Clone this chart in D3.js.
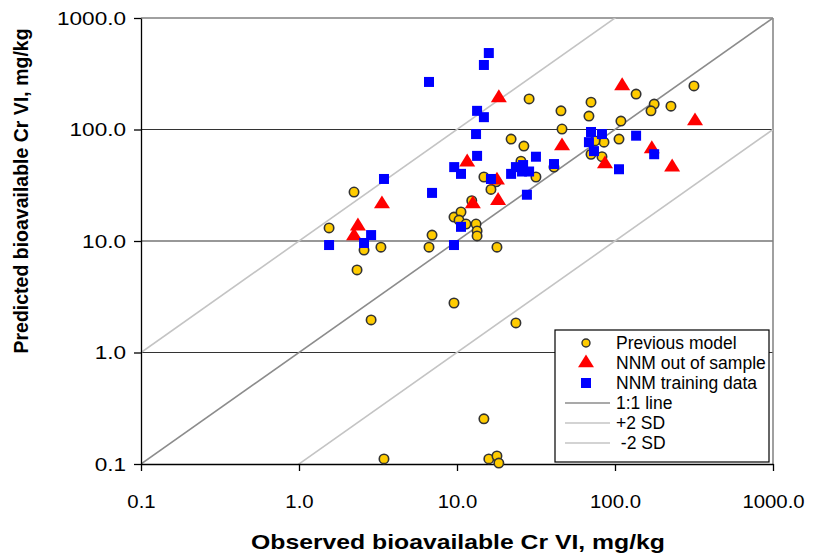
<!DOCTYPE html>
<html>
<head>
<meta charset="utf-8">
<script src="https://cdn.jsdelivr.net/npm/d3@7"></script>
<style>
  html, body { margin: 0; padding: 0; background: #fff; }
  svg { display: block; }
  text { font-family: "Liberation Sans", Arial, sans-serif; }
</style>
</head>
<body>
<svg id="chart" width="820" height="557"></svg>
<script>
// ---- data ----
const prevObs  = [28.6,45.5,70.5,68.4,46.2,109,136,177,169,226,316,22,26.5,106,85.2,74.7,70.5,82.7,25.4,41.1,14.8,17.7,31.6,16.4,12.4,2.23,1.55,6.95,2.58,3.30,6.65,17.9,2.33,9.57,2.86,23.6,9.57,10.6,10.3,11.4,13.2,13.4,13.4,14.8,3.45,15.9,17.9,18.4];
const prevPred = [188,147,176,132,101,119,208,169,147,162,246,82,71,82,77,79,60,57,52,46,37.5,34,37.5,29,23,27.5,13.1,11.3,8.3,8.8,8.8,8.8,5.5,2.78,1.96,1.84,16.4,18.2,15.4,14.2,14.2,12.3,11.1,0.254,0.111,0.111,0.118,0.102];
const oosObs   = [18.4,111,321,46.2,171,86.4,230,11.6,17.9,18.2,12.6,3.35,2.36,2.23];
const oosPred  = [192,246,119,71,67,49,46,51,35,23,21.5,21.5,13.6,11.1];
const trainObs = [15.9,14.8,6.65,13.4,14.8,13.2,13.4,9.6,10.6,6.95,16.4,22.0,23.6,26.2,25.8,28.6,31.6,41.1,27.7,70.5,82.7,68.4,73.6,136,177,106,3.45,2.86,2.58,1.55,9.57,10.6];
const trainPred= [485,379,267,147,129,91,58,46,40,27,36,40,46,48,42,42,57,49,26,95,91,77,64,88,60,44,36,11.3,9.6,9.2,9.2,13.4];
const tickValues = [0.1, 1, 10, 100, 1000];
const refLineFactors = [1, 10, 0.1];          // 1:1, +2 SD, -2 SD
const legendLabels = ["Previous model", "NNM out of sample", "NNM training data", "1:1 line", "+2 SD", " -2 SD"];
const xTitle = "Observed bioavailable Cr VI, mg/kg";
const yTitle = "Predicted bioavailable Cr VI, mg/kg";

// ---- layout ----
const svg = d3.select("#chart");
const L = 141, R = 773, T = 18, B = 464;
const x = d3.scaleLog().domain([0.1, 1000]).range([L, R]);
const y = d3.scaleLog().domain([0.1, 1000]).range([B, T]);
const fmt = d3.format(".1f");

// horizontal gridlines
svg.append("g").selectAll("line").data([1, 10, 100]).join("line")
  .attr("x1", L).attr("x2", R).attr("y1", d => y(d)).attr("y2", d => y(d))
  .attr("stroke", "#333").attr("stroke-width", 1.2);

// plot border top/right
svg.append("line").attr("x1", L).attr("x2", R).attr("y1", T).attr("y2", T).attr("stroke", "#808080").attr("stroke-width", 1.5);
svg.append("line").attr("x1", R).attr("x2", R).attr("y1", T).attr("y2", B).attr("stroke", "#808080").attr("stroke-width", 1.5);

// reference lines
svg.append("clipPath").attr("id", "pc").append("rect")
  .attr("x", L).attr("y", T).attr("width", R - L).attr("height", B - T);
const refColors = ["#8c8c8c", "#c4c4c4", "#c4c4c4"];
svg.append("g").attr("clip-path", "url(#pc)").selectAll("line").data(refLineFactors).join("line")
  .attr("x1", x(0.1)).attr("y1", (d) => y(0.1 * d))
  .attr("x2", x(1000)).attr("y2", (d) => y(1000 * d))
  .attr("stroke", (d, i) => refColors[i]).attr("stroke-width", 1.6);

// axes
const xAxis = d3.axisBottom(x).tickValues(tickValues).tickFormat(fmt).tickSize(7).tickSizeOuter(0);
const gx = svg.append("g").attr("transform", `translate(0,${B})`).call(xAxis);
gx.select(".domain").attr("stroke", "#000").attr("stroke-width", 1.3);
gx.selectAll(".tick line").attr("stroke", "#000").attr("stroke-width", 1.3);
gx.selectAll(".tick text").attr("font-size", 18.5).attr("fill", "#000").attr("y", 0).attr("dy", 0)
  .attr("transform", "translate(0,44) scale(1.1,1)")
  .attr("font-family", "Liberation Sans, Arial, sans-serif");

const yAxis = d3.axisLeft(y).tickValues(tickValues).tickFormat(fmt).tickSize(7).tickSizeOuter(0);
const gy = svg.append("g").attr("transform", `translate(${L},0)`).call(yAxis);
gy.select(".domain").attr("stroke", "#000").attr("stroke-width", 1.3);
gy.selectAll(".tick text").attr("font-size", 18.5).attr("fill", "#000").attr("x", 0).attr("dy", "0.35em")
  .attr("transform", "translate(-15,0) scale(1.22,1)")
  .attr("font-family", "Liberation Sans, Arial, sans-serif");
gy.selectAll(".tick line").attr("stroke", "#000").attr("stroke-width", 1.3);

// markers
svg.append("g").selectAll("circle").data(d3.zip(prevObs, prevPred)).join("circle")
  .attr("cx", d => x(d[0])).attr("cy", d => y(d[1])).attr("r", 4.7)
  .attr("fill", "#FFCC00").attr("stroke", "#333").attr("stroke-width", 1.6);

const tri = d3.symbol().type(d3.symbolTriangle).size(95);
svg.append("g").selectAll("path").data(d3.zip(oosObs, oosPred)).join("path")
  .attr("d", tri).attr("transform", d => `translate(${x(d[0])},${y(d[1])}) scale(1.08,1)`)
  .attr("fill", "#FF0000");

svg.append("g").selectAll("rect").data(d3.zip(trainObs, trainPred)).join("rect")
  .attr("x", d => x(d[0]) - 5).attr("y", d => y(d[1]) - 5).attr("width", 10).attr("height", 10)
  .attr("fill", "#0000FF");

// legend
const lg = svg.append("g");
lg.append("rect").attr("x", 555).attr("y", 330).attr("width", 214).attr("height", 132)
  .attr("fill", "#fff").attr("stroke", "#000").attr("stroke-width", 1.2);
const rowY = i => 343 + i * 20;
lg.selectAll("text").data(legendLabels).join("text")
  .attr("x", 616).attr("y", (d, i) => rowY(i)).attr("dy", "0.35em")
  .attr("font-size", 17.5).attr("fill", "#000")
  .style("white-space", "pre").text(d => d);
lg.append("circle").attr("cx", 586).attr("cy", rowY(0)).attr("r", 4)
  .attr("fill", "#FFCC00").attr("stroke", "#333").attr("stroke-width", 1.4);
lg.append("path").attr("d", tri).attr("transform", `translate(586,${rowY(1)}) scale(1.08,1)`).attr("fill", "#FF0000");
lg.append("rect").attr("x", 581).attr("y", rowY(2) - 5).attr("width", 10).attr("height", 10).attr("fill", "#0000FF");
lg.selectAll("line.l").data(refColors).join("line").attr("class", "l")
  .attr("x1", 565).attr("x2", 610).attr("y1", (d, i) => rowY(3 + i)).attr("y2", (d, i) => rowY(3 + i))
  .attr("stroke", d => d).attr("stroke-width", 1.6);

// titles
svg.append("text").attr("transform", "translate(458,549) scale(1.27,1)")
  .attr("text-anchor", "middle").attr("font-size", 19.5).attr("font-weight", "bold").text(xTitle);
svg.append("text").attr("transform", "translate(28,191) rotate(-90)")
  .attr("text-anchor", "middle").attr("font-size", 19.5).attr("font-weight", "bold").text(yTitle);
</script>
</body>
</html>
